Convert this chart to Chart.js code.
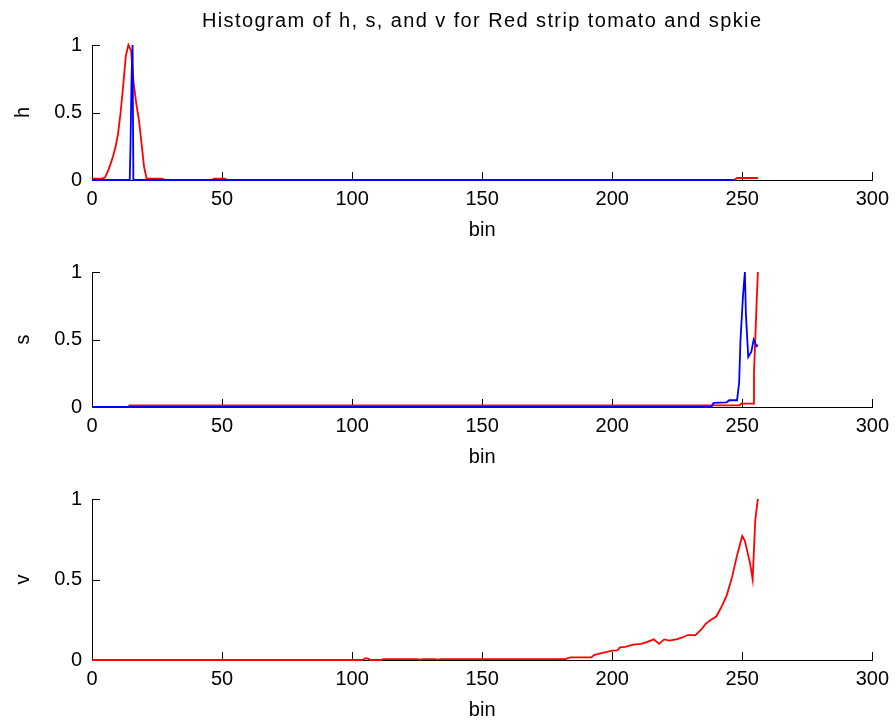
<!DOCTYPE html>
<html>
<head>
<meta charset="utf-8">
<script src="https://cdn.jsdelivr.net/npm/chart.js@4"></script>
<style>
  html, body { margin: 0; padding: 0; background: #fff; }
  #wrap { position: relative; width: 896px; height: 725px; overflow: hidden; }
  .panel { position: absolute; left: 0; width: 896px; }
</style>
</head>
<body>
<div id="wrap">
  <div class="panel" style="top:0px;height:250px"><canvas id="hChart"></canvas></div>
  <div class="panel" style="top:250px;height:227px"><canvas id="sChart"></canvas></div>
  <div class="panel" style="top:477px;height:248px"><canvas id="vChart"></canvas></div>
</div>
<script>
const titleText = 'Histogram of h, s, and v for Red strip tomato and spkie';
const xTicks = [0, 50, 100, 150, 200, 250, 300];
const yTicks = [0, 0.5, 1];

// h channel
const hBlueBins   = [0, 14.5, 14.8, 15.2, 15.6, 15.9, 247];
const hBlueCounts = [0, 0, 0.25, 0.75, 1, 0, 0];
const hRedBins    = [0, 4, 5, 6, 7, 8, 9, 10, 11, 12, 13, 14, 15, 16, 17, 18, 19, 20, 21, 27, 28, 46, 47, 51, 52, 247, 248, 256];
const hRedCounts  = [0.01, 0.01, 0.02, 0.06, 0.11, 0.17, 0.24, 0.34, 0.5, 0.7, 0.92, 1.0, 0.96, 0.72, 0.57, 0.45, 0.28, 0.1, 0.01, 0.01, 0, 0, 0.01, 0.01, 0, 0, 0.015, 0.015];

// s channel
const sBlueBins   = [0, 238, 239, 244, 245, 248, 248.8, 249.3, 250.3, 251, 251.4, 252.3, 253.5, 254.4, 255.5, 256];
const sBlueCounts = [0, 0, 0.03, 0.035, 0.05, 0.05, 0.18, 0.49, 0.83, 1.0, 0.69, 0.37, 0.41, 0.5, 0.45, 0.46];
const sRedBins    = [14, 249, 249.5, 254.4, 254.5, 255.5, 256];
const sRedCounts  = [0.012, 0.012, 0.025, 0.025, 0.25, 0.76, 1.0];

// v channel
const vRedBins   = [0, 104, 105, 106, 107, 111, 112, 125, 126, 127, 132, 133, 134, 182, 183, 184, 192, 193, 195, 198, 200, 202, 203, 205, 208, 211, 213, 216, 218, 220, 222, 225, 227, 229, 232, 234, 236, 238, 240, 242, 244, 246, 248, 250, 251, 253, 254, 255, 256];
const vRedCounts = [0, 0, 0.01, 0.01, 0, 0, 0.006, 0.006, 0.002, 0.006, 0.006, 0.002, 0.006, 0.006, 0.012, 0.016, 0.016, 0.03, 0.04, 0.05, 0.058, 0.06, 0.078, 0.082, 0.095, 0.1, 0.11, 0.128, 0.1, 0.128, 0.12, 0.13, 0.14, 0.155, 0.155, 0.185, 0.226, 0.25, 0.27, 0.33, 0.4, 0.51, 0.65, 0.77, 0.74, 0.6, 0.5, 0.87, 1.0];

const FONT = 'Liberation Sans, Arial, sans-serif';

function toPoints(bins, counts) {
    return bins.map((b, i) => ({ x: b, y: counts[i] }));
}

// matlab style ticks pointing into the plot
const inwardTicks = {
    id: 'inwardTicks',
    beforeDatasetsDraw(chart) {
        const { ctx, chartArea, scales: { x, y } } = chart;
        ctx.save();
        ctx.strokeStyle = '#000';
        ctx.lineWidth = 1;
        ctx.beginPath();
        x.ticks.forEach(t => {
            const px = Math.round(x.getPixelForValue(t.value)) + 0.5;
            ctx.moveTo(px, chartArea.bottom);
            ctx.lineTo(px, chartArea.bottom - 8);
        });
        y.ticks.forEach(t => {
            const py = Math.round(y.getPixelForValue(t.value)) + 0.5;
            ctx.moveTo(chartArea.left, py);
            ctx.lineTo(chartArea.left + 8, py);
        });
        ctx.stroke();
        ctx.restore();
    }
};

// figure title above the first panel
const figTitle = {
    id: 'figTitle',
    afterDraw(chart, args, opts) {
        if (!opts.text) return;
        const { ctx, chartArea } = chart;
        ctx.save();
        ctx.font = '20px ' + FONT;
        ctx.letterSpacing = '1.4px';
        ctx.fillStyle = '#000';
        ctx.textAlign = 'center';
        ctx.textBaseline = 'alphabetic';
        ctx.fillText(opts.text, (chartArea.left + chartArea.right) / 2, 27);
        ctx.restore();
    }
};

function makePanel(id, label, series, padTop, xHeight, binPadBottom, title) {
    const datasets = series.map(s => ({
        data: toPoints(s.bins, s.counts),
        borderColor: s.color,
        borderWidth: 1.8,
        pointRadius: 0,
        tension: 0,
        fill: false,
        clip: false
    }));

    return new Chart(document.getElementById(id), {
        type: 'line',
        data: { datasets: datasets },
        options: {
            responsive: true,
            maintainAspectRatio: false,
            animation: false,
            layout: { padding: { top: padTop, right: 23, bottom: 0, left: 0 } },
            scales: {
                x: {
                    type: 'linear',
                    min: 0,
                    max: 300,
                    afterBuildTicks: scale => { scale.ticks = xTicks.map(v => ({ value: v })); },
                    afterFit: scale => { scale.height = xHeight; },
                    grid: { display: false, drawTicks: false },
                    border: { display: true, color: '#000', width: 1 },
                    ticks: { color: '#000', padding: 7, maxRotation: 0, font: { family: FONT, size: 20 }, callback: v => String(v) },
                    title: { display: true, text: 'bin', color: '#000', padding: { top: 0, bottom: binPadBottom }, font: { family: FONT, size: 20 } }
                },
                y: {
                    min: 0,
                    max: 1,
                    afterBuildTicks: scale => { scale.ticks = yTicks.map(v => ({ value: v })); },
                    afterFit: scale => { scale.width = 92; },
                    grid: { display: false, drawTicks: false },
                    border: { display: true, color: '#000', width: 1 },
                    ticks: { color: '#000', padding: 10, font: { family: FONT, size: 20 }, callback: v => String(v) },
                    title: { display: true, text: label, color: '#000', padding: { top: 11, bottom: 0 }, font: { family: FONT, size: 20 } }
                }
            },
            plugins: {
                legend: { display: false },
                tooltip: { enabled: false },
                figTitle: { text: title }
            }
        },
        plugins: [inwardTicks, figTitle]
    });
}

// blue first so it sits on top of red where they overlap
makePanel('hChart', 'h', [
    { bins: hBlueBins, counts: hBlueCounts, color: '#0000ff' },
    { bins: hRedBins, counts: hRedCounts, color: '#ff0000' }
], 45, 70, 8, titleText);

makePanel('sChart', 's', [
    { bins: sBlueBins, counts: sBlueCounts, color: '#0000ff' },
    { bins: sRedBins, counts: sRedCounts, color: '#ff0000' }
], 21, 70, 8, '');

makePanel('vChart', 'v', [
    { bins: vRedBins, counts: vRedCounts, color: '#ff0000' }
], 21, 65, 3, '');
</script>
</body>
</html>
